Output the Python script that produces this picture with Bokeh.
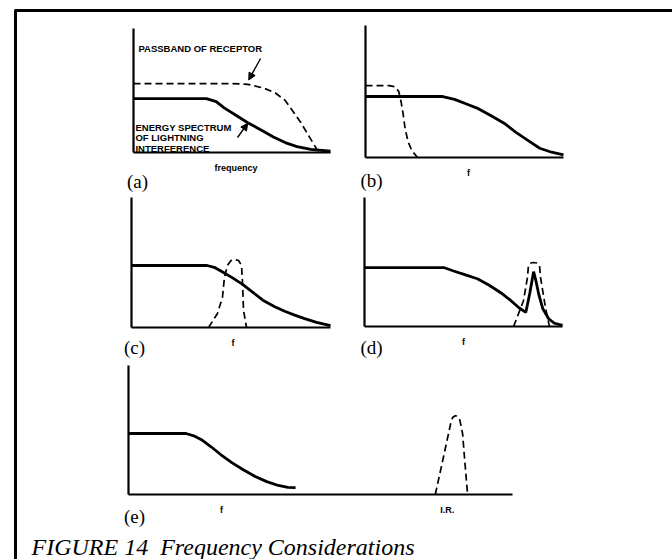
from bokeh.plotting import figure
from bokeh.models import Range1d, LinearAxis, FixedTicker, Arrow, NormalHead
from bokeh.embed import file_html
from bokeh.resources import INLINE
from bokeh.core.properties import value

# ---------------- data (panel units: x = frequency 0..1, y = level 0..1) -------------
# (a)
a_spec_x = [0, 0.37, 0.42, 0.46, 0.52, 0.58, 0.65, 0.71, 0.77, 0.83, 0.90, 1.0]
a_spec_y = [0.435, 0.435, 0.41, 0.36, 0.30, 0.24, 0.18, 0.125, 0.08, 0.048, 0.025, 0.01]
a_pass_x = [0, 0.50, 0.58, 0.66, 0.72, 0.77, 0.81, 0.85, 0.88, 0.91, 0.94]
a_pass_y = [0.556, 0.556, 0.55, 0.52, 0.48, 0.42, 0.33, 0.24, 0.16, 0.08, 0.0]
# (b)
b_spec_x = [0, 0.39, 0.45, 0.51, 0.57, 0.63, 0.70, 0.76, 0.82, 0.88, 0.94, 1.0]
b_spec_y = [0.462, 0.462, 0.44, 0.405, 0.37, 0.32, 0.26, 0.19, 0.13, 0.07, 0.04, 0.02]
b_pass_x = [0, 0.12, 0.15, 0.168, 0.18, 0.19, 0.20, 0.215, 0.235, 0.263]
b_pass_y = [0.545, 0.545, 0.535, 0.50, 0.42, 0.33, 0.22, 0.12, 0.05, 0.0]
# (c)
c_spec_x = [0, 0.38, 0.42, 0.46, 0.51, 0.56, 0.61, 0.66, 0.72, 0.77, 0.82, 0.87, 0.93, 1.0]
c_spec_y = [0.477, 0.477, 0.46, 0.425, 0.38, 0.33, 0.27, 0.21, 0.16, 0.125, 0.095, 0.068, 0.04, 0.015]
c_pass_x = [0.387, 0.432, 0.457, 0.467, 0.482, 0.50, 0.518, 0.538, 0.553, 0.558, 0.563, 0.578]
c_pass_y = [0.0, 0.108, 0.231, 0.385, 0.477, 0.515, 0.523, 0.515, 0.477, 0.338, 0.131, 0.0]
# (d)
d_spec_x = [0, 0.40, 0.45, 0.51, 0.57, 0.63, 0.69, 0.74, 0.78, 0.815, 0.835, 0.854, 0.865, 0.88, 0.90, 0.93, 0.96, 1.0]
d_spec_y = [0.457, 0.457, 0.43, 0.40, 0.37, 0.32, 0.26, 0.20, 0.145, 0.11, 0.26, 0.425, 0.36, 0.25, 0.14, 0.06, 0.025, 0.008]
d_pass_x = [0.753, 0.803, 0.823, 0.828, 0.840, 0.854, 0.870, 0.884, 0.889, 0.914, 0.934]
d_pass_y = [0.0, 0.20, 0.38, 0.473, 0.492, 0.496, 0.492, 0.473, 0.38, 0.147, 0.0]
# (e)
e_spec_x = [0, 0.15, 0.17, 0.19, 0.215, 0.24, 0.27, 0.30, 0.33, 0.36, 0.39, 0.415, 0.435]
e_spec_y = [0.473, 0.473, 0.455, 0.425, 0.37, 0.31, 0.245, 0.19, 0.14, 0.10, 0.07, 0.055, 0.054]
e_pass_x = [0.799, 0.82, 0.839, 0.844, 0.852, 0.862, 0.870, 0.875, 0.883]
e_pass_y = [0.0, 0.287, 0.55, 0.597, 0.612, 0.589, 0.473, 0.287, 0.0]

panel_names = ["a", "b", "c", "d", "e"]
panel_tags = ["(a)", "(b)", "(c)", "(d)", "(e)"]
axis_texts = [["frequency"], ["f"], ["f"], ["f"], ["f", "I.R."]]
axis_text_x = [[0.52], [0.52], [0.51], [0.50], [0.242, 0.83]]

# ---------------- layout (page pixels) ----------------
W, H = 672, 559
# origin x, origin y (x-axis line), x-axis length, y-axis length
geom = {
    "a": (133, 152, 197, 124),
    "b": (365, 157, 198, 132),
    "c": (131, 327, 199, 130),
    "d": (364, 326, 198, 129),
    "e": (128, 494, 384, 129),
}
tag_offset = {"a": (4, 29), "b": (6, 23), "c": (3, 20), "d": (7, 21), "e": (6, 22)}

curves = {
    "a": (a_spec_x, a_spec_y, a_pass_x, a_pass_y),
    "b": (b_spec_x, b_spec_y, b_pass_x, b_pass_y),
    "c": (c_spec_x, c_spec_y, c_pass_x, c_pass_y),
    "d": (d_spec_x, d_spec_y, d_pass_x, d_pass_y),
    "e": (e_spec_x, e_spec_y, e_pass_x, e_pass_y),
}

p = figure(width=W, height=H, x_range=Range1d(0, W), y_range=Range1d(0, H),
           output_backend="svg", toolbar_location=None, min_border=0,
           x_axis_location=None, y_axis_location=None)
p.grid.visible = False
p.outline_line_color = None

SANS = value("Liberation Sans")
SERIF = value("Liberation Serif")

for name, tag, atexts, atx in zip(panel_names, panel_tags, axis_texts, axis_text_x):
    ox, oy, lx, ly = geom[name]
    xn, yn = "x" + name, "y" + name
    p.extra_x_ranges[xn] = Range1d(-ox / lx, (W - ox) / lx)
    p.extra_y_ranges[yn] = Range1d((oy - H) / ly, oy / ly)

    common = dict(x_range_name=xn, y_range_name=yn, fixed_location=0, bounds=(0, 1),
                  ticker=FixedTicker(ticks=[]), axis_line_width=2.2, axis_line_color="black",
                  major_tick_line_color=None, minor_tick_line_color=None,
                  major_label_text_font_size="0px")
    p.add_layout(LinearAxis(**common), "below")
    p.add_layout(LinearAxis(**common), "left")

    sx, sy, dx, dy = curves[name]
    p.line(sx, sy, x_range_name=xn, y_range_name=yn, line_color="black", line_width=2.8)
    p.line(dx, dy, x_range_name=xn, y_range_name=yn, line_color="black", line_width=1.7,
           line_dash="7 4")

    p.text(atx, [0] * len(atx), text=atexts, x_range_name=xn, y_range_name=yn,
           text_font=SANS, text_font_style="bold", text_font_size="9px",
           text_align="center", text_baseline="middle", y_offset=15, text_color="black")

    ofx, ofy = tag_offset[name]
    p.text([0], [0], text=[tag], x_range_name=xn, y_range_name=yn,
           text_font=SERIF, text_font_size="19px", text_align="center",
           text_baseline="middle", x_offset=ofx, y_offset=ofy, text_color="black")

# annotations of panel (a)
a_note_text = ["PASSBAND OF RECEPTOR", "ENERGY SPECTRUM", "OF LIGHTNING", "INTERFERENCE"]
a_note_x = [0.025, 0.01, 0.01, 0.01]
a_note_y = [0.84, 0.20, 0.12, 0.032]
p.text(a_note_x, a_note_y, text=a_note_text, x_range_name="xa", y_range_name="ya",
       text_font=SANS, text_font_style="bold", text_font_size="9.5px",
       text_align="left", text_baseline="middle", text_color="black")
p.add_layout(Arrow(x_start=0.645, y_start=0.758, x_end=0.585, y_end=0.585,
                   x_range_name="xa", y_range_name="ya", line_width=1.4,
                   end=NormalHead(size=7, fill_color="black", line_color="black")))
p.add_layout(Arrow(x_start=0.528, y_start=0.121, x_end=0.58, y_end=0.235,
                   x_range_name="xa", y_range_name="ya", line_width=1.4,
                   end=NormalHead(size=7, fill_color="black", line_color="black")))

# page border (top and left edges of the printed box)
p.segment(x0=[14, 15], y0=[H - 10, H - 10], x1=[W, 15], y1=[H - 10, 0],
          line_color="black", line_width=3)

# caption
p.text([31], [H - 546], text=["FIGURE 14\u00a0\u00a0Frequency Considerations"],
       text_font=SERIF, text_font_style="italic", text_font_size="24px",
       text_align="left", text_baseline="alphabetic", text_color="black")

open("out.html", "w").write(file_html(p, INLINE))
